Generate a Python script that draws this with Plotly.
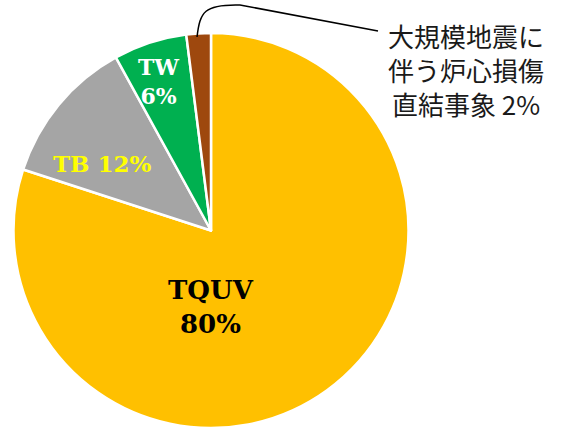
import plotly.graph_objects as go

labels = ["TQUV", "TB", "TW", "大規模地震に伴う炉心損傷直結事象"]
values = [80, 12, 6, 2]
colors = ["#FFC000", "#A5A5A5", "#00B050", "#9E480E"]

W, H = 561, 433

def px(x, y):
    return x / W, 1 - y / H

fig = go.Figure(go.Pie(
    labels=labels, values=values, sort=False, direction="clockwise", rotation=0,
    marker=dict(colors=colors, line=dict(color="white", width=2.5)),
    textinfo="none", hoverinfo="label+percent", showlegend=False,
    domain=dict(x=[13 / W, 409 / W], y=[1 - 428 / H, 1 - 33 / H]),
))

serif = "DejaVu Serif, Liberation Serif, serif"
anns = [
    dict(text="<b>TQUV<br>80%</b>", xy=(211, 307), color="black", size=26),
    dict(text="<b>TB 12%</b>", xy=(102, 163), color="#FFFF00", size=23),
    dict(text="<b>TW<br>6%</b>", xy=(158, 81), color="white", size=22),
]
for a in anns:
    x, y = px(*a["xy"])
    fig.add_annotation(x=x, y=y, xref="paper", yref="paper", text=a["text"], showarrow=False,
                       xanchor="center", yanchor="middle",
                       font=dict(family=serif, size=a["size"], color=a["color"]), align="center")

x, y = px(466, 70)
fig.add_annotation(x=x, y=y, xref="paper", yref="paper",
                   text="大規模地震に<br>伴う炉心損傷<br>直結事象 2%", showarrow=False, align="center",
                   xanchor="center", yanchor="middle",
                   font=dict(family="Noto Sans CJK JP", size=26, color="#1a1a1a"))

def P(x, y):
    a, b = px(x, y)
    return f"{a:.4f},{b:.4f}"

fig.add_shape(type="path", xref="paper", yref="paper",
              path=f"M {P(197,37)} C {P(200,12)} {P(204,4)} {P(240,5)} L {P(378,31)}",
              line=dict(color="black", width=1.5))

fig.update_layout(width=W, height=H, margin=dict(l=0, r=0, t=0, b=0),
                  paper_bgcolor="white", plot_bgcolor="white")
fig.write_html("out.html", config={"displayModeBar": False},
               post_script="document.body.style.margin='0';")
